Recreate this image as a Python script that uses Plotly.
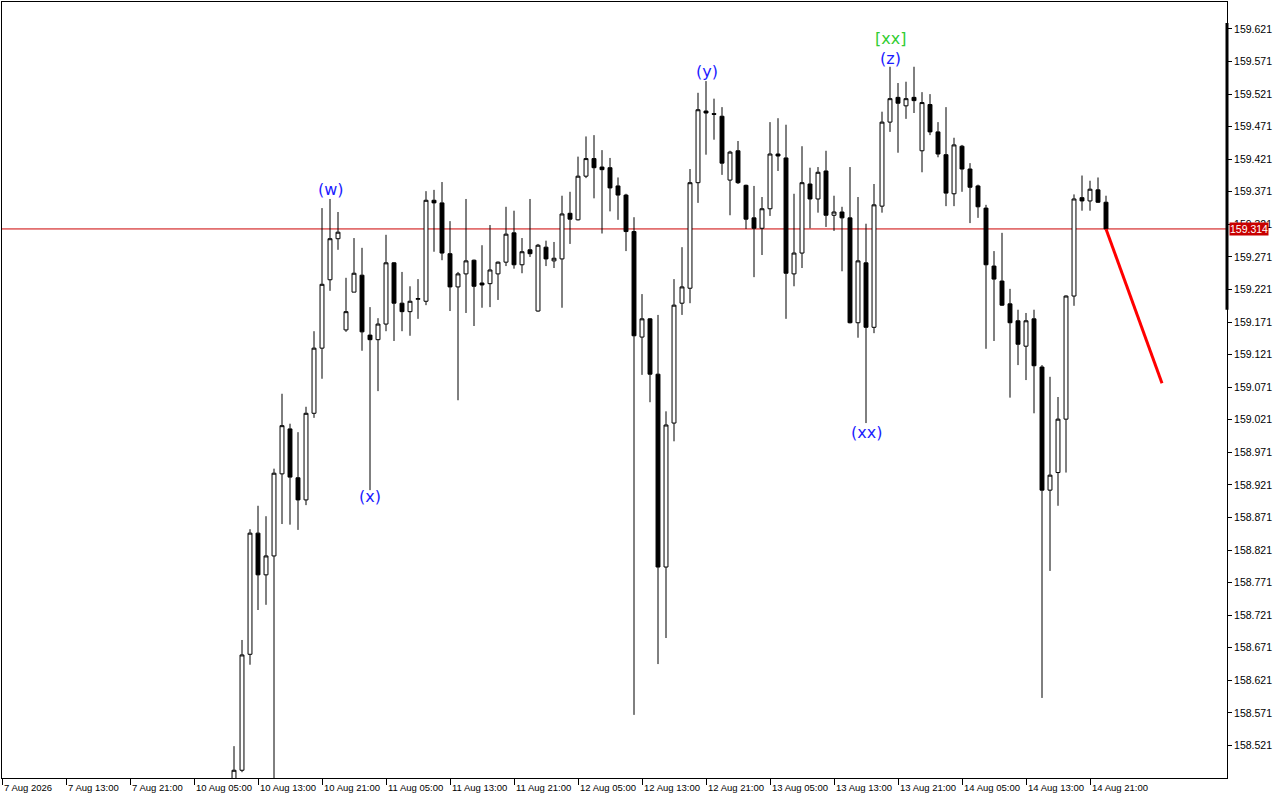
import plotly.graph_objects as go

# ---- data (hourly bars, positional index along the time axis) ----
bar_index = list(range(29, 139))

opens = [158.460, 158.483, 158.661, 158.847, 158.783, 158.812, 158.938, 159.007, 158.932, 158.898,
         159.031, 159.131, 159.236, 159.299, 159.159, 159.217, 159.243, 159.151, 159.144, 159.168,
         159.262, 159.200, 159.187, 159.206, 159.203, 159.358, 159.354, 159.276, 159.225, 159.245,
         159.266, 159.231, 159.230, 159.245, 159.263, 159.308, 159.259, 159.282, 159.188, 159.286,
         159.265, 159.268, 159.338, 159.328, 159.395, 159.422, 159.409, 159.408, 159.380, 159.366,
         159.310, 159.148, 159.176, 159.091, 158.795, 159.016, 159.200, 159.223, 159.385, 159.495,
         159.491, 159.487, 159.389, 159.434, 159.381, 159.331, 159.315, 159.345, 159.429, 159.423,
         159.245, 159.277, 159.383, 159.360, 159.403, 159.335, 159.340, 159.331, 159.170, 159.262,
         159.163, 159.349, 159.478, 159.516, 159.503, 159.516, 159.434, 159.505, 159.463, 159.428,
         159.368, 159.441, 159.406, 159.380, 159.346, 159.257, 159.234, 159.199, 159.173, 159.134,
         159.176, 159.102, 158.913, 158.940, 159.022, 159.211, 159.362, 159.357, 159.374, 159.355]
highs = [158.520, 158.683, 158.853, 158.889, 158.873, 158.946, 159.061, 159.015, 159.002, 159.041,
         159.157, 159.346, 159.360, 159.340, 159.239, 159.300, 159.285, 159.194, 159.177, 159.305,
         159.263, 159.248, 159.226, 159.237, 159.372, 159.374, 159.386, 159.326, 159.248, 159.360,
         159.267, 159.289, 159.320, 159.264, 159.348, 159.342, 159.300, 159.360, 159.291, 159.296,
         159.294, 159.365, 159.371, 159.425, 159.456, 159.458, 159.435, 159.423, 159.393, 159.368,
         159.332, 159.214, 159.177, 159.182, 159.034, 159.237, 159.286, 159.406, 159.523, 159.541,
         159.514, 159.501, 159.434, 159.449, 159.382, 159.380, 159.363, 159.478, 159.484, 159.474,
         159.368, 159.441, 159.408, 159.409, 159.434, 159.365, 159.348, 159.409, 159.363, 159.322,
         159.383, 159.494, 159.563, 159.538, 159.540, 159.563, 159.524, 159.521, 159.478, 159.501,
         159.454, 159.443, 159.415, 159.382, 159.351, 159.280, 159.308, 159.222, 159.190, 159.185,
         159.190, 159.105, 159.087, 159.056, 159.212, 159.367, 159.396, 159.388, 159.393, 159.365]
lows = [158.450, 158.480, 158.645, 158.729, 158.737, 158.455, 158.861, 158.860, 158.852, 158.890,
        159.024, 159.084, 159.219, 159.282, 159.156, 159.217, 159.127, 158.913, 159.065, 159.157,
        159.142, 159.157, 159.150, 159.176, 159.197, 159.279, 159.266, 159.188, 159.051, 159.185,
        159.165, 159.193, 159.194, 159.205, 159.257, 159.253, 159.246, 159.271, 159.187, 159.257,
        159.254, 159.193, 159.291, 159.327, 159.392, 159.361, 159.307, 159.341, 159.328, 159.280,
        158.568, 159.090, 159.048, 158.646, 158.686, 158.988, 159.182, 159.200, 159.354, 159.428,
        159.451, 159.397, 159.335, 159.383, 159.314, 159.240, 159.274, 159.334, 159.403, 159.176,
        159.226, 159.254, 159.315, 159.339, 159.317, 159.311, 159.249, 159.169, 159.147, 159.016,
        159.154, 159.339, 159.463, 159.431, 159.483, 159.492, 159.401, 159.458, 159.424, 159.349,
        159.349, 159.371, 159.323, 159.331, 159.130, 159.142, 159.196, 159.055, 159.105, 159.082,
        159.031, 158.594, 158.789, 158.889, 158.940, 159.196, 159.342, 159.342, 159.354, 159.314]
closes = [158.483, 158.660, 158.847, 158.783, 158.812, 158.939, 159.012, 158.933, 158.898, 159.031,
          159.131, 159.229, 159.299, 159.309, 159.187, 159.246, 159.156, 159.144, 159.168, 159.262,
          159.200, 159.187, 159.203, 159.207, 159.358, 159.354, 159.277, 159.225, 159.245, 159.265,
          159.226, 159.228, 159.251, 159.263, 159.306, 159.259, 159.279, 159.276, 159.289, 159.268,
          159.269, 159.337, 159.329, 159.395, 159.422, 159.408, 159.405, 159.377, 159.366, 159.310,
          159.150, 159.176, 159.091, 158.795, 159.013, 159.197, 159.225, 159.385, 159.497, 159.492,
          159.490, 159.415, 159.432, 159.385, 159.329, 159.315, 159.345, 159.429, 159.426, 159.246,
          159.277, 159.385, 159.360, 159.401, 159.335, 159.340, 159.331, 159.170, 159.265, 159.163,
          159.351, 159.478, 159.514, 159.507, 159.514, 159.511, 159.508, 159.463, 159.429, 159.369,
          159.443, 159.406, 159.378, 159.348, 159.259, 159.237, 159.197, 159.170, 159.137, 159.173,
          159.104, 158.913, 158.936, 159.022, 159.211, 159.360, 159.357, 159.375, 159.355, 159.314]

# time axis labels (every 8 bars)
tick_index = [0, 8, 16, 24, 32, 40, 48, 56, 64, 72, 80, 88, 96, 104, 112, 120, 128, 136]
tick_labels = ["7 Aug 2026", "7 Aug 13:00", "7 Aug 21:00", "10 Aug 05:00", "10 Aug 13:00",
               "10 Aug 21:00", "11 Aug 05:00", "11 Aug 13:00", "11 Aug 21:00", "12 Aug 05:00",
               "12 Aug 13:00", "12 Aug 21:00", "13 Aug 05:00", "13 Aug 13:00", "13 Aug 21:00",
               "14 Aug 05:00", "14 Aug 13:00", "14 Aug 21:00"]

# price axis labels
price_ticks = [158.521, 158.571, 158.621, 158.671, 158.721, 158.771, 158.821, 158.871, 158.921,
               158.971, 159.021, 159.071, 159.121, 159.171, 159.221, 159.271, 159.321, 159.371,
               159.421, 159.471, 159.521, 159.571, 159.621]

current_price = 159.314

# forecast line (bar index, price)
forecast_index = [138, 145]
forecast_price = [159.314, 159.077]

# wave labels
wave_text = ["(w)", "(x)", "(y)", "[xx]", "(z)", "(xx)"]
wave_index = [41.1, 46.0, 88.1, 111.0, 111.0, 108.0]
wave_price = [159.374, 158.903, 159.555, 159.607, 159.576, 159.002]
wave_color = ["#1c1cff", "#1c1cff", "#1c1cff", "#32cd32", "#1c1cff", "#1c1cff"]

# ---- figure ----
fig = go.Figure()
fig.add_trace(go.Candlestick(
    x=bar_index, open=opens, high=highs, low=lows, close=closes,
    increasing=dict(fillcolor="white", line=dict(color="black", width=1)),
    decreasing=dict(fillcolor="black", line=dict(color="black", width=1)),
    whiskerwidth=0, showlegend=False, hoverinfo="skip",
))
fig.add_trace(go.Scatter(
    x=forecast_index, y=forecast_price, mode="lines",
    line=dict(color="#ff0000", width=3), showlegend=False, hoverinfo="skip",
))

# current price line
fig.add_shape(type="line", xref="paper", x0=0, x1=1, yref="y", y0=current_price, y1=current_price,
              line=dict(color="#cc0000", width=1), layer="below")
# thick bar on the price scale
fig.add_shape(type="line", xref="paper", x0=1, x1=1, yref="y", y0=159.630, y1=159.190,
              line=dict(color="black", width=3))

annotations = []
for t, xi, yi, c in zip(wave_text, wave_index, wave_price, wave_color):
    annotations.append(dict(x=xi, y=yi, text=t, showarrow=False, xref="x", yref="y",
                            font=dict(family="DejaVu Sans", size=16, color=c)))
for ti, lab in zip(tick_index, tick_labels):
    annotations.append(dict(x=ti, y=0, xref="x", yref="paper", text=lab, showarrow=False,
                            xanchor="left", yanchor="top", xshift=0, yshift=-2,
                            font=dict(family="Liberation Sans", size=9.5, color="black")))
annotations.append(dict(x=1, y=current_price, xref="paper", yref="y", text="%.3f" % current_price,
                        showarrow=False, xanchor="left", yanchor="middle", xshift=2,
                        bgcolor="#c80000", borderpad=0,
                        font=dict(family="Liberation Sans", size=10.5, color="white")))

fig.update_layout(
    width=1280, height=800,
    margin=dict(l=2, r=53, t=2, b=22),
    paper_bgcolor="white", plot_bgcolor="white",
    showlegend=False,
    annotations=annotations,
    xaxis=dict(range=[0, 153.125], tickvals=tick_index, ticktext=[""] * len(tick_index),
               ticks="outside", ticklen=6, tickcolor="black", tickwidth=1,
               showgrid=False, zeroline=False, showline=True, linecolor="black", linewidth=1,
               mirror=True, rangeslider=dict(visible=False), fixedrange=True),
    yaxis=dict(range=[158.4711, 159.6624], side="right", tickvals=price_ticks,
               ticktext=["%.3f" % v for v in price_ticks],
               ticks="outside", ticklen=4, tickcolor="black", tickwidth=1,
               tickfont=dict(family="Liberation Sans", size=10.5, color="black"),
               showgrid=False, zeroline=False, showline=True, linecolor="black", linewidth=1,
               mirror=True, fixedrange=True),
)

fig.write_html("out.html", config={"displayModeBar": False},
               post_script="document.body.style.margin='0';document.body.style.overflow='hidden';")
